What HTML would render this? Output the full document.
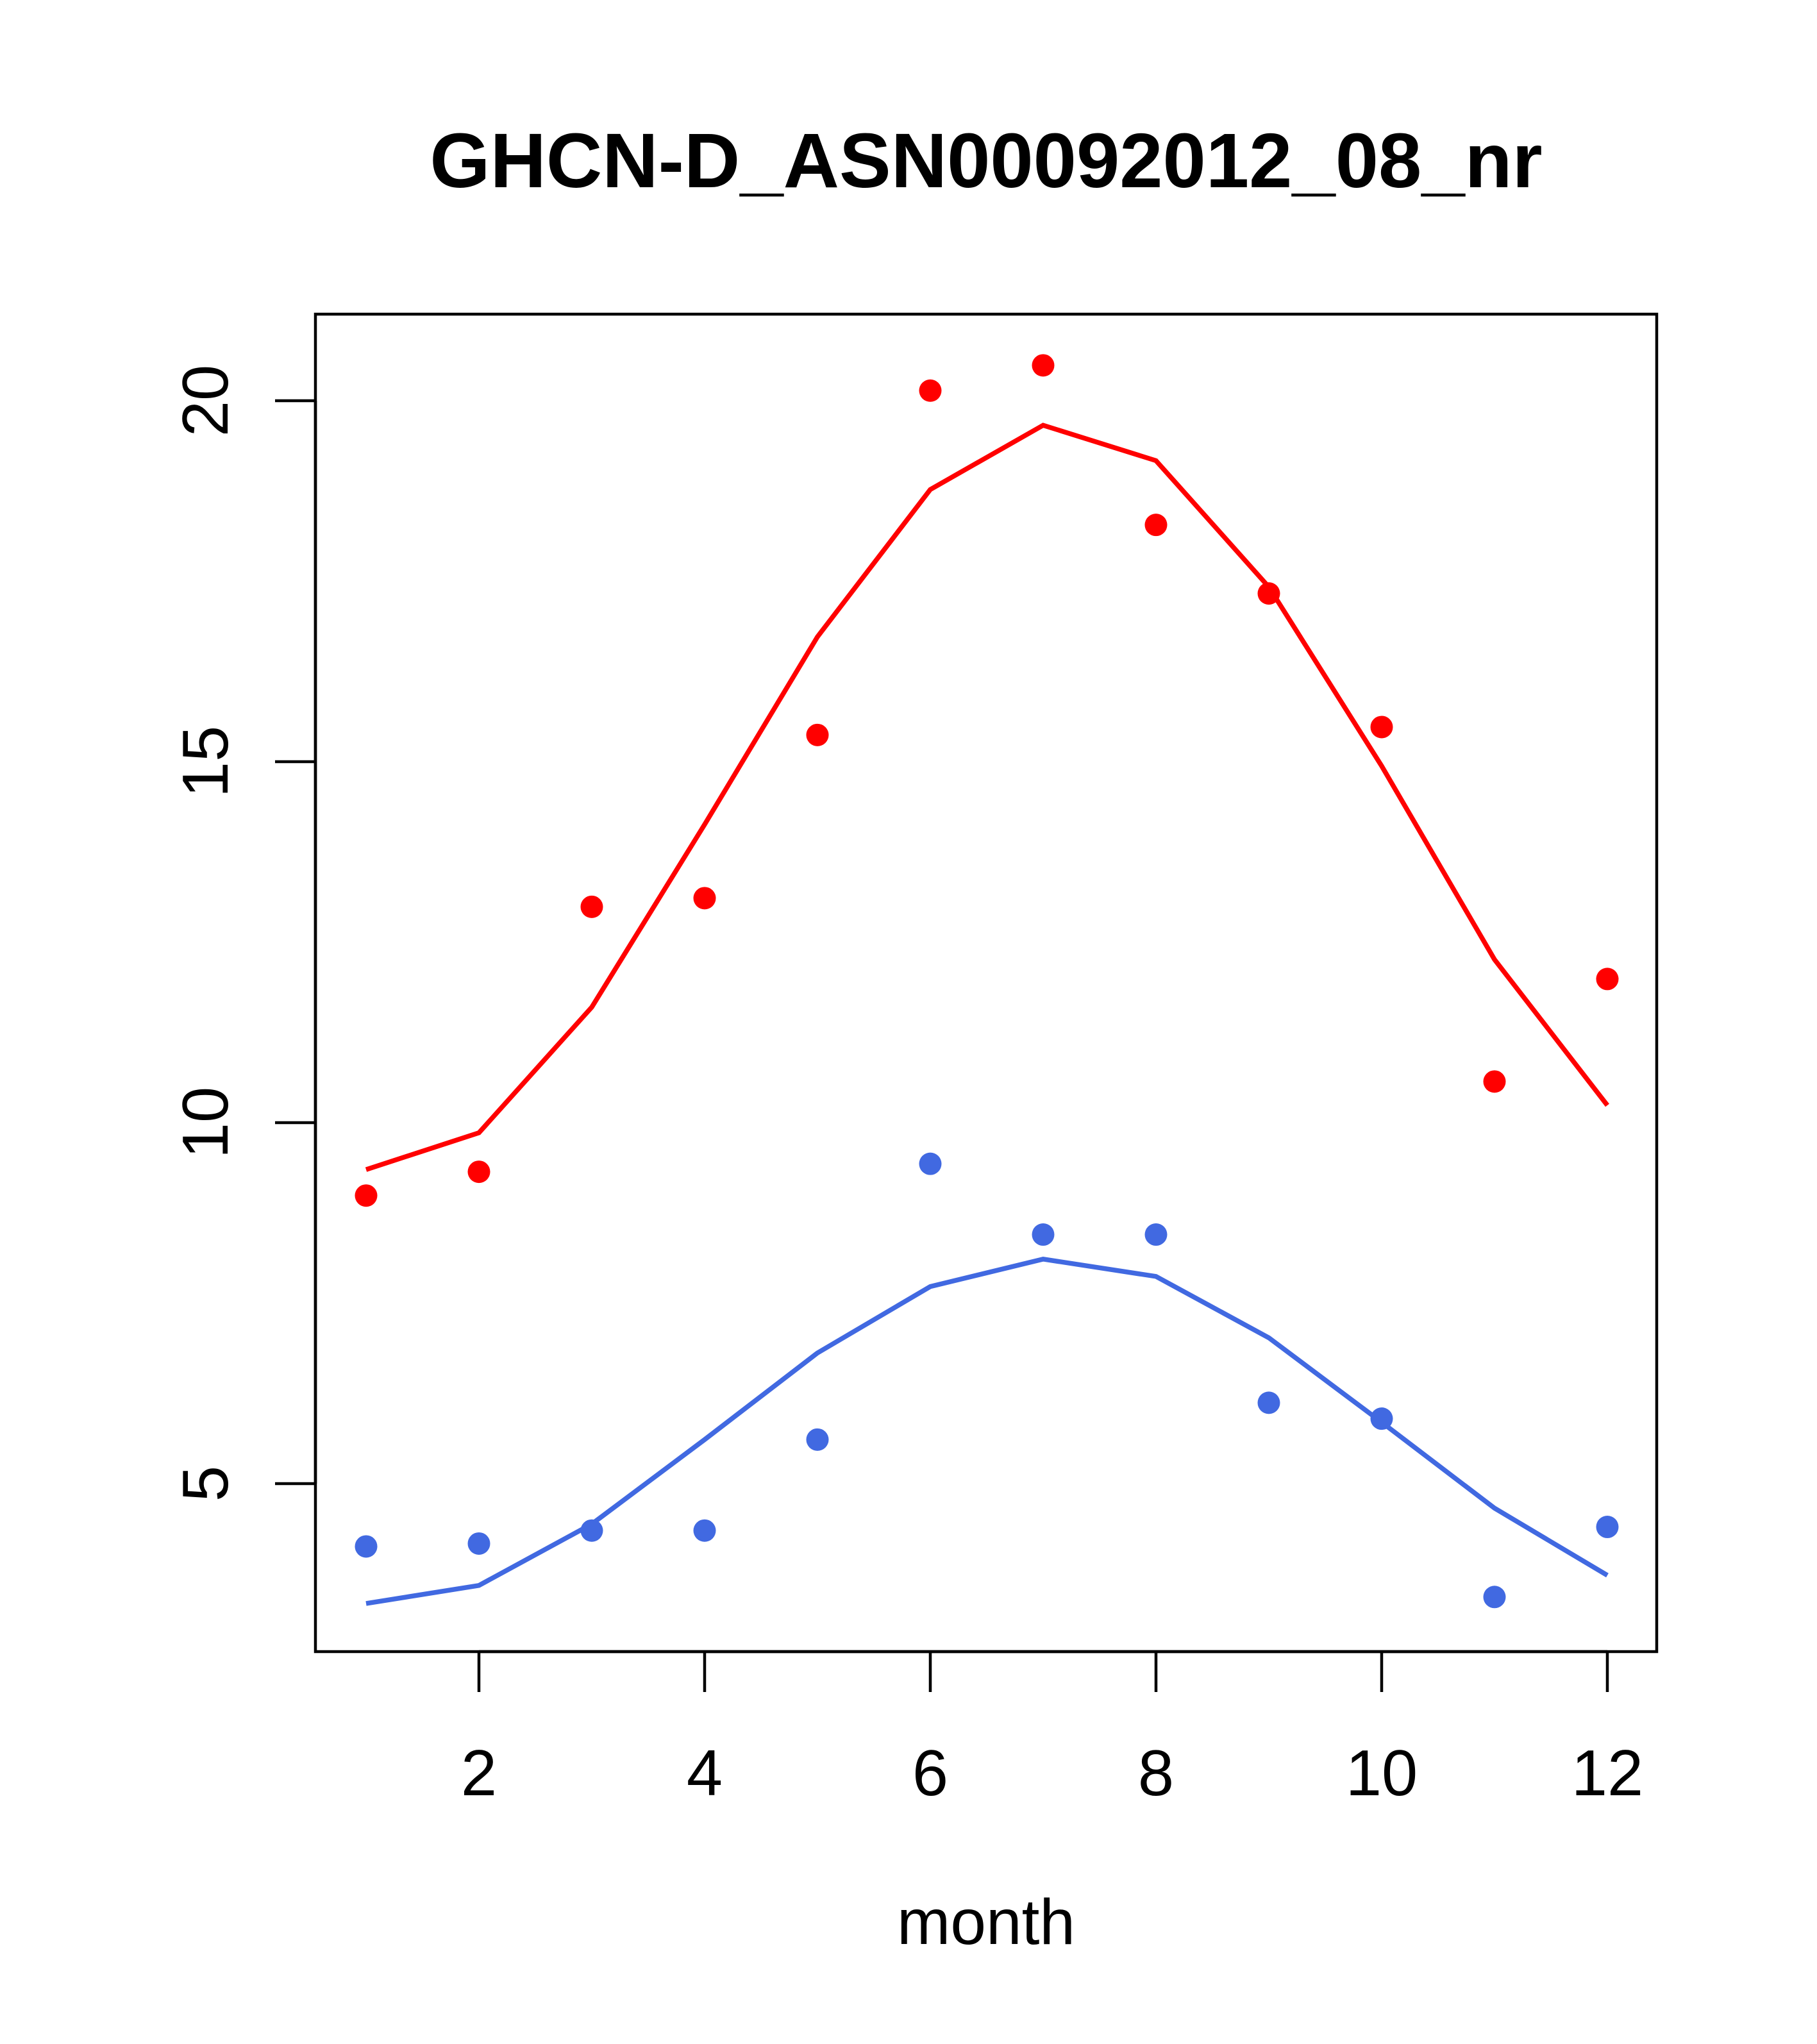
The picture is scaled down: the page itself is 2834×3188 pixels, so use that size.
<!DOCTYPE html>
<html><head><meta charset="utf-8"><style>
html,body{margin:0;padding:0;background:#fff;}
svg{display:block;font-family:"Liberation Sans",Arial,sans-serif;}
</style></head><body>
<svg id="chart" width="2834" height="3188" viewBox="0 0 2834 3188" xmlns="http://www.w3.org/2000/svg">
<rect width="2834" height="3188" fill="#fff"/>
<text x="1538" y="292" font-size="121" font-weight="bold" text-anchor="middle">GHCN-D_ASN00092012_08_nr</text>
<rect x="492" y="490" width="2092" height="2086" fill="none" stroke="#000" stroke-width="4.5"/>
<text x="1538" y="3032" font-size="100" text-anchor="middle">month</text>
<g id="xaxis"></g>
<g id="yaxis"></g>
<g id="series"></g>
</svg>
<script>
const months=[1,2,3,4,5,6,7,8,9,10,11,12];
const redPoints=[8.99,9.32,12.99,13.11,15.37,20.14,20.49,18.28,17.33,15.48,10.57,11.99];
const redLine=[9.35,9.86,11.6,14.13,16.73,18.77,19.66,19.17,17.42,14.94,12.26,10.24];
const bluePoints=[4.13,4.17,4.35,4.35,5.61,9.43,8.45,8.45,6.12,5.9,3.43,4.40];
const blueLine=[3.34,3.59,4.44,5.61,6.81,7.73,8.11,7.87,7.02,5.85,4.66,3.73];
const xTicks=[2,4,6,8,10,12];
const yTicks=[5,10,15,20];

const NS="http://www.w3.org/2000/svg";
function X(m){return 747+(m-2)*176.0;}
function Y(v){return 625+(20-v)*112.6;}
function mk(tag,attrs,parent){const e=document.createElementNS(NS,tag);for(const k in attrs)e.setAttribute(k,attrs[k]);parent.appendChild(e);return e;}

const xa=document.getElementById('xaxis');
mk('line',{x1:X(xTicks[0]),x2:X(xTicks[xTicks.length-1]),y1:2576,y2:2576,stroke:'#000','stroke-width':4.5},xa);
xTicks.forEach(t=>{
  const l=mk('line',{x1:X(t),x2:X(t),y1:2576,y2:2639,stroke:'#000','stroke-width':4.5},xa);
  
  
  const tx=mk('text',{x:X(t),y:2800,'font-size':101,'text-anchor':'middle'},xa);
  tx.textContent=t;
  
  
});
const ya=document.getElementById('yaxis');
mk('line',{x1:492,x2:492,y1:Y(yTicks[0]),y2:Y(yTicks[yTicks.length-1]),stroke:'#000','stroke-width':4.5},ya);
yTicks.forEach(t=>{
  const l=mk('line',{x1:429,x2:492,y1:Y(t),y2:Y(t),stroke:'#000','stroke-width':4.5},ya);
  
  
  const tx=mk('text',{x:355,y:Y(t),'font-size':101,'text-anchor':'middle',transform:`rotate(-90 355 ${Y(t)})`},ya);
  tx.textContent=t;
  
  
});
const s=document.getElementById('series');
function line(vals,color,name){
  const p=mk('polyline',{points:vals.map((v,i)=>X(months[i])+','+Y(v)).join(' '),fill:'none',stroke:color,'stroke-width':7.5},s);
  
  
}
function pts(vals,color,name){
  vals.forEach((v,i)=>{
    const c=mk('circle',{cx:X(months[i]),cy:Y(v),r:17.5,fill:color},s);
    
    
  });
}
line(redLine,'#ff0000','red-fit-line');
line(blueLine,'#4169e1','blue-fit-line');
pts(redPoints,'#ff0000','red-point');
pts(bluePoints,'#4169e1','blue-point');
</script>
</body></html>
